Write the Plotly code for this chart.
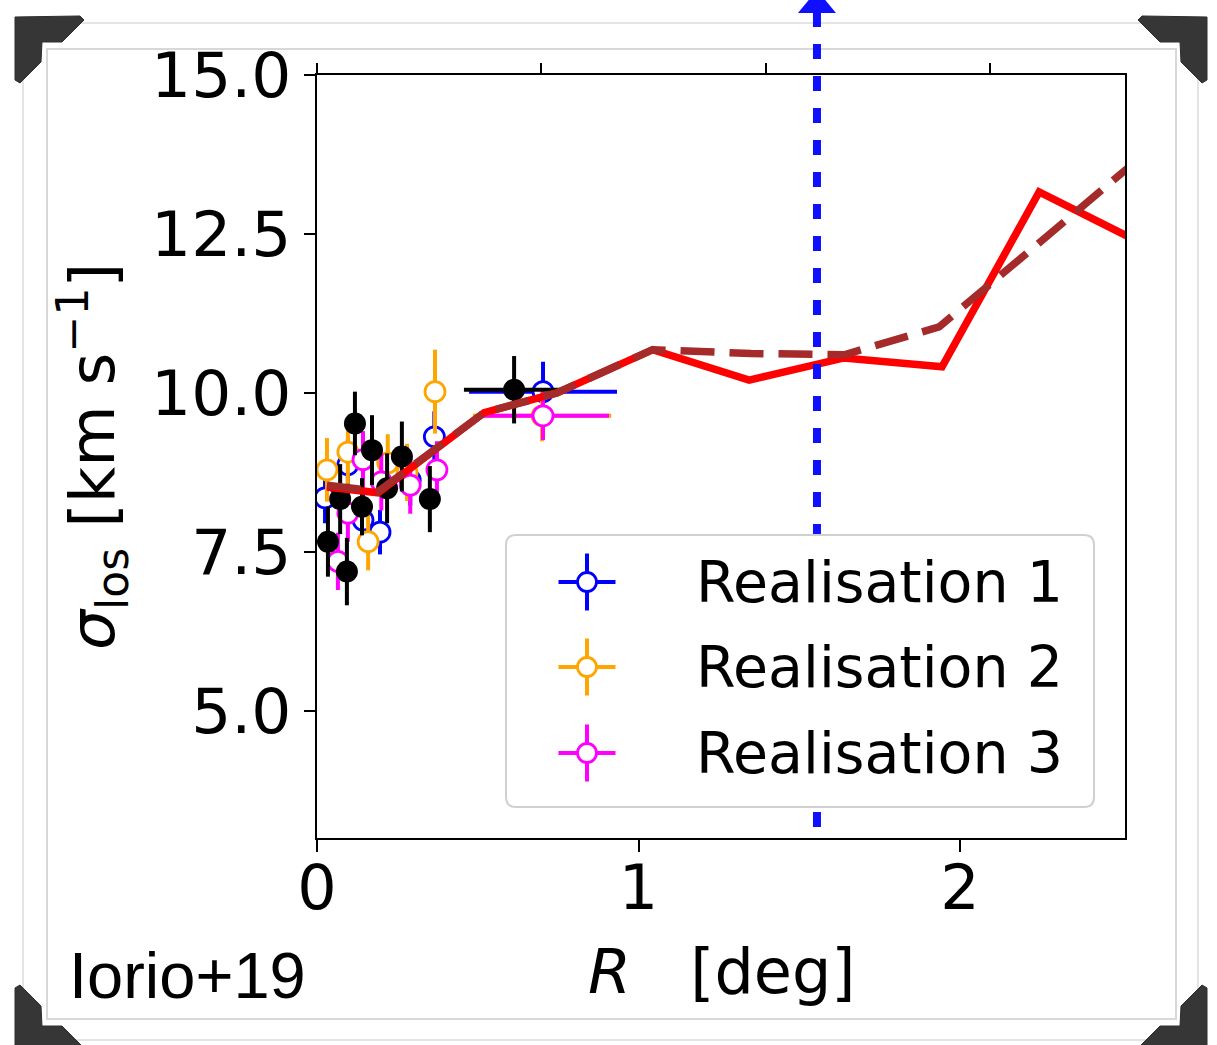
import plotly.graph_objects as go

# ---------------- data ----------------
# Iorio+19 (black, filled)
data_x = [0.034, 0.072, 0.093, 0.118, 0.140, 0.171, 0.218, 0.264, 0.351, 0.613]
data_y = [7.66, 8.33, 7.19, 9.52, 8.21, 9.10, 8.50, 9.00, 8.33, 10.05]
data_ey = [0.55, 0.55, 0.53, 0.50, 0.45, 0.55, 0.55, 0.55, 0.52, 0.53]
data_ex = [0, 0, 0, 0, 0, 0, 0, 0, 0, 0.156]

# Realisation 1 (blue, open)
r1_x = [0.025, 0.096, 0.143, 0.196, 0.290, 0.365, 0.703]
r1_y = [8.35, 8.87, 8.00, 7.81, 8.63, 9.31, 10.02]
r1_ey = [0.40, 0.40, 0.40, 0.35, 0.40, 0.40, 0.47]
r1_ex = [0, 0, 0, 0, 0, 0, 0.230]

# Realisation 2 (orange, open)
r2_x = [0.031, 0.096, 0.159, 0.220, 0.280, 0.367, 0.700]
r2_y = [8.79, 9.07, 7.66, 8.90, 8.75, 10.02, 9.64]
r2_ey = [0.50, 0.50, 0.45, 0.45, 0.45, 0.66, 0.40]
r2_ex = [0, 0, 0, 0, 0, 0, 0.215]

# Realisation 3 (magenta, open)
r3_x = [0.065, 0.096, 0.143, 0.200, 0.290, 0.373, 0.703]
r3_y = [7.35, 8.11, 8.95, 8.60, 8.55, 8.79, 9.64]
r3_ey = [0.45, 0.45, 0.45, 0.45, 0.45, 0.45, 0.38]
r3_ex = [0, 0, 0, 0, 0, 0, 0.205]

# model curves
red_x = [0.031, 0.19, 0.52, 0.746, 1.044, 1.344, 1.639, 1.944, 2.246, 2.546]
red_y = [8.52, 8.43, 9.69, 10.00, 10.68, 10.20, 10.55, 10.41, 13.16, 12.40]
brown_x = [0.031, 0.19, 0.52, 0.746, 1.044, 1.35, 1.64, 1.935, 2.246, 2.546]
brown_y = [8.55, 8.45, 9.69, 10.00, 10.68, 10.62, 10.60, 11.04, 12.36, 13.64]

# vertical marker (deg)
vline_x = 1.555

legend_names = ["Realisation 1", "Realisation 2", "Realisation 3"]
legend_colors = ["#0000ff", "#ffa500", "#ff00ff"]

x_range = [0, 2.513]
y_range = [3.0, 15.0]
y_ticks = [5.0, 7.5, 10.0, 12.5, 15.0]
x_ticks = [0, 1, 2]
top_range = [0, 3.602]

# ---------------- layout helpers ----------------
WIDTH, HEIGHT = 1217, 1045
L, R, T, B = 317, 1125, 75, 838
W, H = R - L, B - T


def PX(x):
    return (x - L) / W


def PY(y):
    return (B - y) / H


fig = go.Figure()

series = [
    (r1_x, r1_y, r1_ex, r1_ey, legend_colors[0]),
    (r2_x, r2_y, r2_ex, r2_ey, legend_colors[1]),
    (r3_x, r3_y, r3_ex, r3_ey, legend_colors[2]),
]
for xs, ys, ex, ey, col in series:
    fig.add_trace(go.Scatter(
        x=xs, y=ys, mode="markers",
        marker=dict(size=20, color="white", line=dict(color=col, width=2.8)),
        error_y=dict(type="data", array=ey, color=col, thickness=4, width=0),
        error_x=dict(type="data", array=ex, color=col, thickness=4, width=0),
        showlegend=False, hoverinfo="skip",
    ))

fig.add_trace(go.Scatter(
    x=data_x, y=data_y, mode="markers",
    marker=dict(size=22, color="black"),
    error_y=dict(type="data", array=data_ey, color="black", thickness=4, width=0),
    error_x=dict(type="data", array=data_ex, color="black", thickness=4, width=0),
    showlegend=False, hoverinfo="skip",
))

fig.add_trace(go.Scatter(
    x=red_x, y=red_y, mode="lines",
    line=dict(color="#ff0000", width=7.5),
    showlegend=False, hoverinfo="skip",
))
fig.add_trace(go.Scatter(
    x=brown_x, y=brown_y, mode="lines",
    line=dict(color="#a52a2a", width=7.5, dash="34px,15px"),
    showlegend=False, hoverinfo="skip",
))

# invisible trace so that the top (secondary) axis is drawn
fig.add_trace(go.Scatter(
    x=top_range, y=[None, None], xaxis="x2", yaxis="y", mode="markers",
    showlegend=False, hoverinfo="skip",
))

# ---------------- shapes ----------------
shapes = []

# photo-frame lines
shapes.append(dict(type="rect", xref="paper", yref="paper",
                   x0=PX(23), x1=PX(1198), y0=PY(23), y1=PY(1040),
                   line=dict(color="#e4e4e4", width=2), layer="below"))
shapes.append(dict(type="rect", xref="paper", yref="paper",
                   x0=PX(47), x1=PX(1176), y0=PY(49), y1=PY(1019),
                   line=dict(color="#d8d8d8", width=2), layer="below"))

# corner brackets
tl = [(15, 17), (80, 16), (84, 20), (62, 42), (42, 42), (41, 62), (20, 83), (15, 80)]


def bracket(pts):
    s = "M " + " L ".join(f"{PX(x):.5f},{PY(y):.5f}" for x, y in pts) + " Z"
    return dict(type="path", xref="paper", yref="paper", path=s,
                fillcolor="#363636", line=dict(color="#2e2e2e", width=1), layer="above")


shapes.append(bracket(tl))
shapes.append(bracket([(1222 - x, y) for x, y in tl]))
shapes.append(bracket([(x, 1068 - y) for x, y in tl]))
shapes.append(bracket([(1222 - x, 1068 - y) for x, y in tl]))

# blue vertical dashed arrow
vx_paper = (vline_x - x_range[0]) / (x_range[1] - x_range[0])
vx_px = L + vx_paper * W
shapes.append(dict(type="line", xref="paper", yref="paper",
                   x0=vx_paper, x1=vx_paper, y0=PY(12), y1=0,
                   line=dict(color="#1010ff", width=8, dash="15px,17px"), layer="above"))
shapes.append(dict(type="path", xref="paper", yref="paper",
                   path=f"M {PX(vx_px-19):.5f},{PY(13):.5f} L {PX(vx_px+19):.5f},{PY(13):.5f} L {PX(vx_px):.5f},{PY(-10):.5f} Z",
                   fillcolor="#1010ff", line=dict(width=0), layer="above"))

# legend box (rounded)
lx0, ly0, lx1, ly1, rr = 506, 535, 1094, 807, 10
rpath = (f"M {PX(lx0+rr)},{PY(ly0)} L {PX(lx1-rr)},{PY(ly0)} Q {PX(lx1)},{PY(ly0)} {PX(lx1)},{PY(ly0+rr)} "
         f"L {PX(lx1)},{PY(ly1-rr)} Q {PX(lx1)},{PY(ly1)} {PX(lx1-rr)},{PY(ly1)} "
         f"L {PX(lx0+rr)},{PY(ly1)} Q {PX(lx0)},{PY(ly1)} {PX(lx0)},{PY(ly1-rr)} "
         f"L {PX(lx0)},{PY(ly0+rr)} Q {PX(lx0)},{PY(ly0)} {PX(lx0+rr)},{PY(ly0)} Z")
shapes.append(dict(type="path", xref="paper", yref="paper", path=rpath,
                   fillcolor="white", line=dict(color="#d0d0d0", width=2),
                   layer="above"))

annotations = []
row_y = [582, 667, 753]
mx = 587
arm = 28.5
rad = 9.5
for name, col, ry in zip(legend_names, legend_colors, row_y):
    shapes.append(dict(type="line", xref="paper", yref="paper",
                       x0=PX(mx - arm), x1=PX(mx + arm), y0=PY(ry), y1=PY(ry),
                       line=dict(color=col, width=4), layer="above"))
    shapes.append(dict(type="line", xref="paper", yref="paper",
                       x0=PX(mx), x1=PX(mx), y0=PY(ry - arm), y1=PY(ry + arm),
                       line=dict(color=col, width=4), layer="above"))
    shapes.append(dict(type="circle", xref="paper", yref="paper",
                       x0=PX(mx - rad), x1=PX(mx + rad), y0=PY(ry + rad), y1=PY(ry - rad),
                       fillcolor="white", line=dict(color=col, width=2.8), layer="above"))
    annotations.append(dict(xref="paper", yref="paper", x=PX(694), y=PY(ry),
                            xanchor="left", yanchor="middle", showarrow=False,
                            text=name, font=dict(family="DejaVu Sans", size=57, color="black")))

# axis titles and label
annotations.append(dict(xref="paper", yref="paper", x=PX(721), y=PY(971),
                        xanchor="center", yanchor="middle", showarrow=False,
                        text="<i>R</i>\u00a0\u00a0\u00a0[deg]",
                        font=dict(family="DejaVu Sans", size=62, color="black")))
annotations.append(dict(xref="paper", yref="paper", x=PX(92), y=PY(456),
                        xanchor="center", yanchor="middle", showarrow=False, textangle=-90,
                        text="<i>σ</i><sub>los</sub> [km s<sup>−1</sup>]",
                        font=dict(family="DejaVu Sans", size=63, color="black")))
annotations.append(dict(xref="paper", yref="paper", x=PX(67), y=PY(975),
                        xanchor="left", yanchor="middle", showarrow=False,
                        text="Iorio+19",
                        font=dict(family="Liberation Sans", size=65, color="black")))

fig.update_layout(
    width=WIDTH, height=HEIGHT,
    margin=dict(l=L, r=WIDTH - R, t=T, b=HEIGHT - B, pad=0),
    paper_bgcolor="white", plot_bgcolor="white",
    showlegend=False,
    font=dict(family="DejaVu Sans", color="black"),
    xaxis=dict(range=x_range, tickvals=x_ticks, ticktext=[str(v) for v in x_ticks],
               ticks="outside", ticklen=12, tickwidth=2, tickcolor="black",
               showline=True, linecolor="black", linewidth=2, mirror=True,
               showgrid=False, zeroline=False,
               tickfont=dict(family="DejaVu Sans", size=62, color="black"),
               ticklabelstandoff=-17),
    xaxis2=dict(range=top_range, overlaying="x", side="top", anchor="y",
                dtick=1, tick0=0, ticks="outside", ticklen=11, tickwidth=2, tickcolor="black",
                showticklabels=False, showline=False, showgrid=False, zeroline=False),
    yaxis=dict(range=y_range, tickvals=y_ticks, ticktext=[f"{v:.1f}" for v in y_ticks],
               ticks="outside", ticklen=11, tickwidth=2, tickcolor="black",
               showline=True, linecolor="black", linewidth=2, mirror=True,
               showgrid=False, zeroline=False,
               tickfont=dict(family="DejaVu Sans", size=63, color="black"),
               ticklabelstandoff=0),
    shapes=shapes,
    annotations=annotations,
)

fig.write_html("out.html")
